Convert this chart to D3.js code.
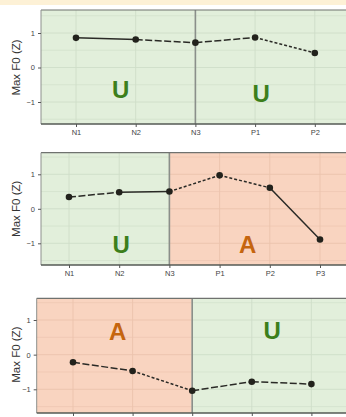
<!DOCTYPE html>
<html><head><meta charset="utf-8">
<script src="https://cdn.jsdelivr.net/npm/d3@7"></script>
<style>html,body{margin:0;padding:0;background:#fff;}svg{display:block;}</style>
</head><body>
<svg id="c" width="346" height="417"></svg>
<script>
// ---- data ----
const cats1 = ["N1","N2","N3","P1","P2"];
const vals1 = [0.86, 0.81, 0.72, 0.87, 0.42];
const cats2 = ["N1","N2","N3","P1","P2","P3"];
const vals2 = [0.34, 0.48, 0.50, 0.97, 0.61, -0.89];
const cats3 = ["N1","N2","N3","P1","P2"];
const vals3 = [-0.22, -0.47, -1.04, -0.78, -0.85];
const yTicks = [-1, 0, 1];
const yMinor = [-1.5, -0.5, 0.5, 1.5];
const yTitle = "Max F0 (Z)";
// region labels: [text, category position (index), value]
const labels1 = [["U", 0.75, -0.63], ["U", 3.1, -0.75]];
const labels2 = [["U", 1.04, -1.03], ["A", 3.56, -1.03]];
const labels3 = [["A", 0.75, 0.68], ["U", 3.34, 0.69]];
// regions: [fromIndex (or null = panel left), toIndex (or null = panel right), kind]
const regions1 = [[null, null, "U"]];
const regions2 = [[null, 2, "U"], [2, null, "A"]];
const regions3 = [[null, 2, "A"], [2, null, "U"]];

// ---- styles ----
const fill = {U: "#e2efdb", A: "#f9d4c0"};
const grid = {U: "#cfdec8", A: "#ebc3ad"};
const txt = {U: "#3c7f1c", A: "#c5650f"};
const dashes = {solid: null, long: "7,2.5", short: "3,2"};

const panels = [
  {cats: cats1, vals: vals1, regions: regions1, labels: labels1, left: 41, top: 10, bottom: 124,
   x0: 76, step: 59.7, y1: 33, ym1: 102, divider: 2, tickLabels: true,
   seg: ["solid", "long", "long", "short"]},
  {cats: cats2, vals: vals2, regions: regions2, labels: labels2, left: 41, top: 152.7, bottom: 265,
   x0: 69, step: 50.2, y1: 174.3, ym1: 243.3, divider: 2, tickLabels: true,
   seg: ["long", "solid", "short", "short", "solid"]},
  {cats: cats3, vals: vals3, regions: regions3, labels: labels3, left: 36.7, top: 298.3, bottom: 413,
   x0: 73, step: 59.6, y1: 320, ym1: 389.3, divider: 2, tickLabels: false,
   seg: ["long", "short", "long", "long"]}
];

const svg = d3.select("#c");
const W = 346;
// top cream strip
svg.append("rect").attr("x", 0).attr("y", 0).attr("width", W).attr("height", 5).attr("fill", "#fdf1d6");

panels.forEach(p => {
  const n = p.cats.length;
  const x = d3.scalePoint().domain(p.cats).range([p.x0, p.x0 + p.step * (n - 1)]);
  const xi = i => p.x0 + p.step * i;
  const y = d3.scaleLinear().domain([-1, 1]).range([p.ym1, p.y1]);
  const right = W + 5;
  const g = svg.append("g");

  // backgrounds
  p.regions.forEach(r => {
    const a = r[0] == null ? p.left : xi(r[0]);
    const b = r[1] == null ? right : xi(r[1]);
    g.append("rect").attr("x", a).attr("y", p.top).attr("width", b - a).attr("height", p.bottom - p.top)
      .attr("fill", fill[r[2]]);
  });
  const kindAt = px => {
    let k = p.regions[0][2];
    p.regions.forEach(r => {
      const a = r[0] == null ? p.left : xi(r[0]);
      const b = r[1] == null ? right : xi(r[1]);
      if (px >= a && px <= b) k = r[2];
    });
    return k;
  };
  // horizontal gridlines (per region)
  p.regions.forEach(r => {
    const a = r[0] == null ? p.left : xi(r[0]);
    const b = r[1] == null ? right : xi(r[1]);
    yMinor.concat(yTicks).forEach(v => {
      const yy = y(v);
      if (yy <= p.top || yy >= p.bottom) return;
      g.append("line").attr("x1", a).attr("x2", b).attr("y1", yy).attr("y2", yy)
        .attr("stroke", grid[r[2]]).attr("stroke-width", yTicks.includes(v) ? 0.9 : 0.6);
    });
  });
  // vertical gridlines
  p.cats.forEach(c => {
    const xx = x(c);
    g.append("line").attr("x1", xx).attr("x2", xx).attr("y1", p.top).attr("y2", p.bottom)
      .attr("stroke", grid[kindAt(xx + 0.1)]).attr("stroke-width", 0.9);
  });
  // divider
  g.append("line").attr("x1", xi(p.divider)).attr("x2", xi(p.divider)).attr("y1", p.top).attr("y2", p.bottom)
    .attr("stroke", "#8a8f8a").attr("stroke-width", 1.6);

  // frame
  g.append("line").attr("x1", p.left).attr("x2", right).attr("y1", p.top).attr("y2", p.top)
    .attr("stroke", "#6f726f").attr("stroke-width", 1.2);
  g.append("line").attr("x1", p.left).attr("x2", p.left).attr("y1", p.top).attr("y2", p.bottom)
    .attr("stroke", "#8d908d").attr("stroke-width", 1);

  // region letters
  p.labels.forEach(l => {
    g.append("text").attr("x", xi(l[1])).attr("y", y(l[2]))
      .attr("text-anchor", "middle").attr("dominant-baseline", "central")
      .attr("font-family", "Liberation Sans, Arial, sans-serif").attr("font-weight", "bold")
      .attr("font-size", 24).attr("fill", txt[l[0]]).text(l[0]);
  });

  // line segments
  for (let i = 0; i < n - 1; i++) {
    const seg = g.append("line")
      .attr("x1", x(p.cats[i])).attr("y1", y(p.vals[i]))
      .attr("x2", x(p.cats[i + 1])).attr("y2", y(p.vals[i + 1]))
      .attr("stroke", "#2a2a26").attr("stroke-width", 1.5);
    const d = dashes[p.seg[i]];
    if (d) seg.attr("stroke-dasharray", d);
  }
  // points
  g.selectAll("circle.pt").data(p.vals).enter().append("circle")
    .attr("cx", (d, i) => x(p.cats[i])).attr("cy", d => y(d)).attr("r", 3.3).attr("fill", "#22221c");

  // axes
  const yAxis = d3.axisLeft(y).tickValues(yTicks).tickSize(3).tickPadding(3)
    .tickFormat(d3.format("d"));
  const ya = g.append("g").attr("transform", `translate(${p.left},0)`).call(yAxis);
  ya.select(".domain").remove();
  ya.selectAll("line").attr("stroke", "#555");
  ya.selectAll("text").attr("font-family", "Liberation Sans, Arial, sans-serif").attr("font-size", 7.5).attr("fill", "#444");

  const xAxis = d3.axisBottom(x).tickSize(3).tickPadding(3)
    .tickFormat(p.tickLabels ? (d => d) : () => "");
  const xa = g.append("g").attr("transform", `translate(0,${p.bottom})`).call(xAxis);
  xa.select(".domain").remove();
  xa.selectAll("line").attr("stroke", "#555");
  xa.selectAll("text").attr("font-family", "Liberation Sans, Arial, sans-serif").attr("font-size", 7.5).attr("fill", "#444");
  g.append("line").attr("x1", p.left).attr("x2", right).attr("y1", p.bottom).attr("y2", p.bottom)
    .attr("stroke", "#555a55").attr("stroke-width", 1.4);

  // y title
  g.append("text").attr("transform", `translate(16,${(p.y1 + p.ym1) / 2}) rotate(-90)`)
    .attr("text-anchor", "middle").attr("dominant-baseline", "central")
    .attr("font-family", "Liberation Sans, Arial, sans-serif").attr("font-size", 11.5).attr("fill", "#333")
    .text(yTitle);
});
</script>
</body></html>
